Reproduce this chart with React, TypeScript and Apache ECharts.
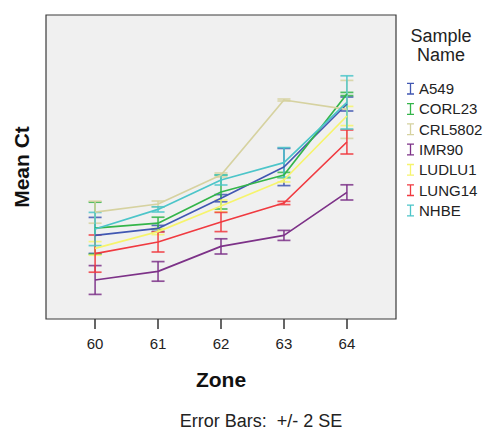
import React, { useEffect, useRef } from "react";
import * as echarts from "echarts";

const zones = [60, 61, 62, 63, 64];
const sampleNames = ["A549", "CORL23", "CRL5802", "IMR90", "LUDLU1", "LUNG14", "NHBE"];
const sampleColors = ["#4157B2", "#34B54A", "#D6D2A0", "#7D3288", "#F6F46C", "#F03A40", "#4CC5C9"];

const a549Mean = [24.18, 24.53, 26.04, 27.6, 30.75];
const a549Err = [0.9, 0.15, 0.18, 0.93, 0.35];
const corl23Mean = [24.54, 24.79, 26.35, 27.2, 31.25];
const corl23Err = [1.3, 0.3, 0.85, 0.13, 0.08];
const crl5802Mean = [25.34, 25.75, 27.2, 30.95, 30.48];
const crl5802Err = [0.55, 0.15, 0.1, 0.05, 1.45];
const imr90Mean = [21.95, 22.38, 23.63, 24.18, 26.33];
const imr90Err = [0.72, 0.49, 0.38, 0.25, 0.38];
const ludlu1Mean = [23.53, 24.37, 25.65, 26.95, 30.15];
const ludlu1Err = [0.34, 0.15, 0.3, 0.1, 0.48];
const lung14Mean = [23.27, 23.85, 24.85, 25.8, 28.85];
const lung14Err = [0.93, 0.5, 0.48, 0.08, 0.6];
const nhbeMean = [24.5, 25.48, 26.95, 27.82, 30.83];
const nhbeErr = [0.83, 0.13, 0.25, 0.75, 1.33];

const means = [a549Mean, corl23Mean, crl5802Mean, imr90Mean, ludlu1Mean, lung14Mean, nhbeMean];
const errs = [a549Err, corl23Err, crl5802Err, imr90Err, ludlu1Err, lung14Err, nhbeErr];

const FONT = "'Liberation Sans', Arial, sans-serif";
const ICON = "path://M0,0h7v1.3h-7z M2.85,0h1.3v12h-1.3z M0,10.7h7v1.3h-7z";

export default function App() {
  const ref = useRef<HTMLDivElement>(null);
  useEffect(() => {
    if (!ref.current) return;
    const chart = echarts.init(ref.current, undefined, { renderer: "svg" });
    const series: any[] = [];
    sampleNames.forEach((name, i) => {
      const color = sampleColors[i];
      series.push({
        name,
        type: "line",
        data: zones.map((z, k) => [z, means[i][k]]),
        symbol: "none",
        lineStyle: { color, width: 1.7 },
        itemStyle: { color },
        z: 3,
      });
      series.push({
        name,
        type: "custom",
        data: zones.map((z, k) => [z, means[i][k] - errs[i][k], means[i][k] + errs[i][k]]),
        itemStyle: { color },
        z: 2,
        renderItem: (params: any, api: any) => {
          const x = api.value(0);
          const lo = api.coord([x, api.value(1)]);
          const hi = api.coord([x, api.value(2)]);
          const hw = 6.5;
          const st = { stroke: color, lineWidth: 1.7, opacity: 0.85 };
          return {
            type: "group",
            children: [
              { type: "line", shape: { x1: lo[0], y1: lo[1], x2: hi[0], y2: hi[1] }, style: st },
              { type: "line", shape: { x1: lo[0] - hw, y1: lo[1], x2: lo[0] + hw, y2: lo[1] }, style: st },
              { type: "line", shape: { x1: hi[0] - hw, y1: hi[1], x2: hi[0] + hw, y2: hi[1] }, style: st },
            ],
          };
        },
      });
    });

    chart.setOption({
      animation: false,
      textStyle: { fontFamily: FONT },
      grid: {
        left: 46,
        top: 15,
        right: 91,
        bottom: 114,
        show: true,
        backgroundColor: "#F0F0F0",
        borderColor: "#3a3a3a",
        borderWidth: 1.2,
      },
      xAxis: {
        type: "value",
        min: 59.22,
        max: 64.78,
        name: "Zone",
        nameLocation: "middle",
        nameGap: 50,
        nameTextStyle: { fontSize: 21, fontWeight: "bold", color: "#111", fontFamily: FONT },
        axisLine: { show: false },
        splitLine: { show: false },
        axisTick: { show: true, customValues: zones, length: 10, lineStyle: { color: "#333", width: 1.5 } },
        axisLabel: { customValues: zones, fontSize: 15, color: "#222", margin: 17, fontFamily: FONT },
      },
      yAxis: {
        type: "value",
        min: 20,
        max: 35.2,
        name: "Mean Ct",
        nameLocation: "middle",
        nameGap: 14,
        nameTextStyle: { fontSize: 21, fontWeight: "bold", color: "#111", fontFamily: FONT },
        axisLine: { show: false },
        axisTick: { show: false },
        axisLabel: { show: false },
        splitLine: { show: false },
      },
      legend: {
        orient: "vertical",
        left: 402,
        top: 76,
        itemWidth: 7,
        itemHeight: 12,
        itemGap: 5,
        textStyle: { fontSize: 15, color: "#222", lineHeight: 15.3, fontFamily: FONT },
        data: sampleNames.map((n, i) => ({ name: n, icon: ICON, itemStyle: { color: sampleColors[i] } })),
      },
      graphic: [
        {
          type: "text",
          x: 441,
          y: 26,
          style: {
            text: "Sample\nName",
            align: "center",
            fontSize: 18,
            lineHeight: 19,
            fill: "#222",
            fontFamily: FONT,
          },
        },
        {
          type: "text",
          x: 261,
          y: 412,
          style: {
            text: "Error Bars:  +/- 2 SE",
            align: "center",
            fontSize: 18,
            fill: "#222",
            fontFamily: FONT,
          },
        },
      ],
      series,
    });
    return () => chart.dispose();
  }, []);
  return <div ref={ref} style={{ position: "fixed", left: 0, top: 0, width: 487, height: 433, background: "#fff" }} />;
}
